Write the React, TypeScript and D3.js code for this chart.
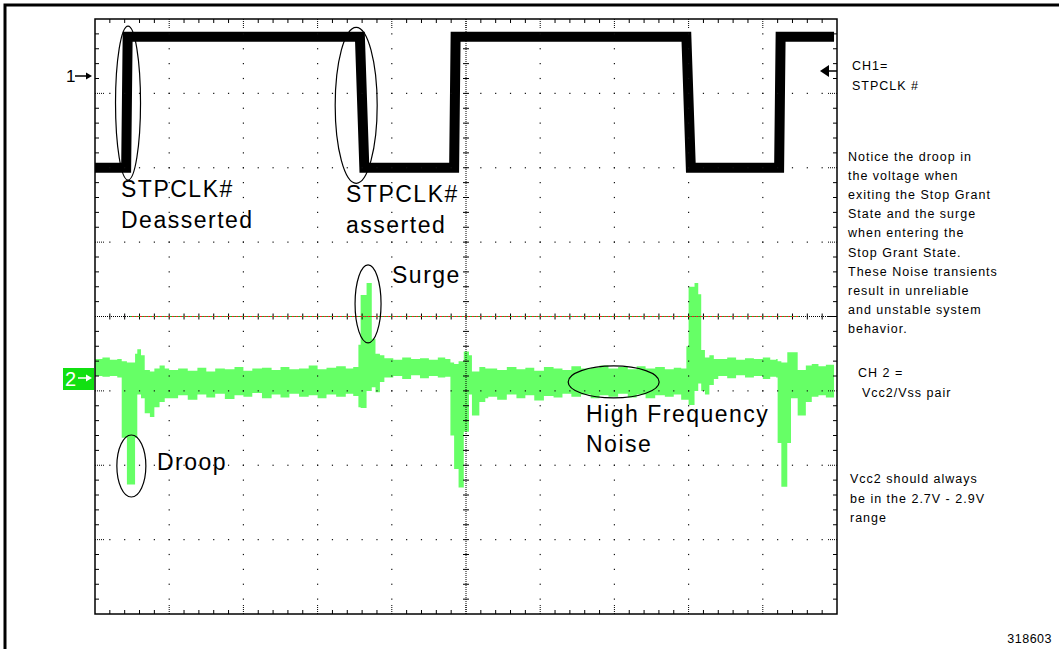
import React, { useEffect, useRef } from 'react';
import * as d3 from 'd3';

// values read off the scope capture, in screen divisions
// time: 0..10 div, amplitude: -4..4 div (0 = centre graticule line)

// CH1 = STPCLK#  [time, level]
const ch1Trace: [number, number][] = [
  [0.00, 2.00], [0.42, 2.00], [0.44, 3.76], [3.57, 3.76], [3.63, 2.00],
  [4.84, 2.00], [4.86, 3.76], [7.97, 3.76], [8.03, 2.00], [9.22, 2.00],
  [9.24, 3.76], [9.96, 3.76],
];

// CH2 = Vcc2/Vss, envelope of the noisy trace  [time, low, high]
const ch2Envelope: [number, number, number][] = [
  [0.00, -0.80, -0.57], [0.10, -0.81, -0.55], [0.20, -0.80, -0.58], [0.30, -0.82, -0.57],
  [0.36, -1.63, -0.60], [0.43, -2.26, -0.62], [0.54, -1.63, -0.50], [0.57, -1.05, -0.44],
  [0.62, -1.10, -0.52], [0.67, -1.30, -0.72], [0.74, -1.35, -0.74], [0.80, -1.22, -0.70],
  [0.87, -1.15, -0.66], [0.94, -1.10, -0.70],
  [1.00, -1.10, -0.72], [1.12, -1.06, -0.70], [1.25, -1.12, -0.73], [1.38, -1.05, -0.69],
  [1.50, -1.09, -0.74], [1.62, -1.04, -0.70], [1.75, -1.11, -0.71], [1.88, -1.06, -0.68],
  [2.00, -1.08, -0.73], [2.12, -1.03, -0.70], [2.25, -1.10, -0.69], [2.38, -1.05, -0.72],
  [2.50, -1.09, -0.68], [2.62, -1.04, -0.71], [2.75, -1.08, -0.70], [2.88, -1.06, -0.66],
  [3.00, -1.10, -0.71], [3.12, -1.05, -0.69], [3.25, -1.08, -0.67], [3.38, -1.04, -0.70],
  [3.48, -1.07, -0.68],
  [3.55, -1.22, -0.38], [3.58, -1.23, 0.29], [3.66, -1.00, 0.45], [3.73, -0.95, -0.30],
  [3.78, -1.02, -0.50], [3.84, -0.88, -0.52],
  [3.90, -0.82, -0.56], [4.02, -0.80, -0.58], [4.14, -0.84, -0.55], [4.26, -0.79, -0.57],
  [4.38, -0.83, -0.56], [4.50, -0.80, -0.58], [4.62, -0.82, -0.55], [4.72, -0.81, -0.57],
  [4.79, -1.60, -0.62], [4.84, -2.05, -0.64], [4.90, -2.30, -0.60], [4.97, -1.55, -0.47],
  [5.04, -1.05, -0.52], [5.08, -1.33, -0.74], [5.18, -1.15, -0.68], [5.26, -1.10, -0.70],
  [5.30, -1.08, -0.70], [5.42, -1.12, -0.72], [5.55, -1.05, -0.68], [5.68, -1.10, -0.71],
  [5.80, -1.06, -0.69], [5.92, -1.13, -0.73], [6.05, -1.07, -0.68], [6.18, -1.09, -0.70],
  [6.30, -1.04, -0.72], [6.42, -1.08, -0.67], [6.55, -1.05, -0.70], [6.68, -1.10, -0.69],
  [6.80, -1.06, -0.66], [6.92, -1.08, -0.70], [7.05, -1.04, -0.68], [7.18, -1.09, -0.71],
  [7.30, -1.05, -0.67], [7.42, -1.10, -0.70], [7.55, -1.06, -0.68], [7.68, -1.08, -0.71],
  [7.80, -1.05, -0.69], [7.90, -1.12, -0.70],
  [7.97, -1.12, -0.40], [8.00, -1.19, 0.40], [8.08, -1.00, 0.45], [8.13, -0.90, 0.30],
  [8.17, -1.00, -0.45], [8.22, -1.05, -0.55], [8.28, -0.92, -0.52],
  [8.34, -0.84, -0.57], [8.40, -0.80, -0.57], [8.52, -0.83, -0.55], [8.64, -0.79, -0.58],
  [8.76, -0.82, -0.56], [8.88, -0.80, -0.57], [9.00, -0.84, -0.55], [9.10, -0.81, -0.58],
  [9.18, -0.82, -0.57],
  [9.20, -1.70, -0.60], [9.25, -2.29, -0.62], [9.33, -1.70, -0.48], [9.38, -1.10, -0.48],
  [9.47, -1.33, -0.72], [9.58, -1.15, -0.66], [9.66, -1.08, -0.64], [9.75, -1.06, -0.67],
  [9.85, -1.09, -0.65], [9.96, -1.06, -0.66],
];

const timeDivisions = 10;
const ampDivisions = 8;
const minorPerDivision = 5;

const ch1Note = ['CH1=', 'STPCLK #'];
const noteLines = [
  'Notice the droop in', 'the voltage when', 'exiting the Stop Grant', 'State and the surge',
  'when entering the', 'Stop Grant State.', 'These Noise transients', 'result in unreliable',
  'and unstable system', 'behavior.',
];
const ch2Note = ['CH 2 =', 'Vcc2/Vss pair'];
const rangeNote = ['Vcc2 should always', 'be in the 2.7V - 2.9V', 'range'];
const figureNumber = '318603';

const FONT = '"Liberation Sans", Arial, sans-serif';

export default function App() {
  const ref = useRef<SVGSVGElement>(null);

  useEffect(() => {
    const svg = d3.select(ref.current);
    svg.selectAll('*').remove();

    const left = 95, top = 19, right = 837, bottom = 614;
    const x = d3.scaleLinear().domain([0, timeDivisions]).range([left, right]);
    const y = d3.scaleLinear().domain([-ampDivisions / 2, ampDivisions / 2]).range([bottom, top]);

    // outer frame (only top and left visible)
    svg.append('path')
      .attr('d', 'M5,649V5H1059')
      .attr('fill', 'none')
      .attr('stroke', '#000')
      .attr('stroke-width', 3);

    // CH2 trace
    const area = d3.area<[number, number, number]>()
      .x(d => x(d[0]))
      .y0(d => y(d[1]))
      .y1(d => y(d[2]))
      .curve(d3.curveStepAfter);
    svg.append('path')
      .datum(ch2Envelope)
      .attr('d', area)
      .attr('fill', '#66ff66');

    // CH1 trace
    const line = d3.line<[number, number]>()
      .x(d => x(d[0]))
      .y(d => y(d[1]));
    svg.append('path')
      .datum(ch1Trace)
      .attr('d', line)
      .attr('fill', 'none')
      .attr('stroke', '#000')
      .attr('stroke-width', 10)
      .attr('stroke-linejoin', 'miter');

    // graticule
    const g = svg.append('g');
    const minorT = d3.range(1, timeDivisions * minorPerDivision).map(i => i / minorPerDivision);
    const minorV = d3.range(1, ampDivisions * minorPerDivision).map(i => -ampDivisions / 2 + i / minorPerDivision);
    const majorT = d3.range(1, timeDivisions);
    const majorV = d3.range(-ampDivisions / 2 + 1, ampDivisions / 2);
    const isMajor = (v: number) => Math.abs(v - Math.round(v)) < 1e-6;

    const dots: [number, number][] = [];
    majorT.filter(t => t !== timeDivisions / 2).forEach(t => minorV.forEach(v => dots.push([x(t), y(v)])));
    majorV.filter(v => v !== 0).forEach(v => minorT.forEach(t => dots.push([x(t), y(v)])));
    g.selectAll('rect.dot')
      .data(dots)
      .join('rect')
      .attr('class', 'dot')
      .attr('x', d => d[0] - 0.6)
      .attr('y', d => d[1] - 0.6)
      .attr('width', 1.2)
      .attr('height', 1.2)
      .attr('fill', '#111');

    // centre lines
    const cx = x(timeDivisions / 2), cy = y(0);
    g.append('line')
      .attr('x1', cx).attr('x2', cx).attr('y1', top).attr('y2', bottom)
      .attr('stroke', '#000').attr('stroke-dasharray', '1,1');
    g.append('line')
      .attr('x1', left).attr('x2', right).attr('y1', cy).attr('y2', cy)
      .attr('stroke', '#000').attr('stroke-dasharray', '1,1');
    g.selectAll('line.vtick')
      .data(minorV)
      .join('line')
      .attr('class', 'vtick')
      .attr('x1', cx - 3).attr('x2', cx + 3)
      .attr('y1', d => y(d)).attr('y2', d => y(d))
      .attr('stroke', '#000');
    g.selectAll('line.htick')
      .data(minorT)
      .join('line')
      .attr('class', 'htick')
      .attr('x1', d => x(d)).attr('x2', d => x(d))
      .attr('y1', cy - 3).attr('y2', cy + 3)
      .attr('stroke', '#000');

    // trigger level line (red / green)
    g.append('line')
      .attr('x1', x(0.47)).attr('x2', x(9.49)).attr('y1', cy).attr('y2', cy)
      .attr('stroke', '#22bb22').attr('stroke-dasharray', '2,2');
    g.append('line')
      .attr('x1', x(0.47)).attr('x2', x(9.49)).attr('y1', cy).attr('y2', cy)
      .attr('stroke', '#ff2222').attr('stroke-dasharray', '2,2').attr('stroke-dashoffset', 2);

    // border ticks
    const tickLen = (v: number) => (isMajor(v) ? 9 : 4);
    const tickDash = (v: number) => (isMajor(v) ? '1,1' : null);
    [top, bottom].forEach((edge, i) => {
      const dir = i === 0 ? 1 : -1;
      g.selectAll(`line.bt${i}`)
        .data(minorT)
        .join('line')
        .attr('class', `bt${i}`)
        .attr('x1', d => x(d)).attr('x2', d => x(d))
        .attr('y1', edge).attr('y2', d => edge + dir * tickLen(d))
        .attr('stroke', '#000')
        .attr('stroke-dasharray', d => tickDash(d));
    });
    [left, right].forEach((edge, i) => {
      const dir = i === 0 ? 1 : -1;
      g.selectAll(`line.bl${i}`)
        .data(minorV)
        .join('line')
        .attr('class', `bl${i}`)
        .attr('y1', d => y(d)).attr('y2', d => y(d))
        .attr('x1', edge).attr('x2', d => edge + dir * tickLen(d))
        .attr('stroke', '#000')
        .attr('stroke-dasharray', d => tickDash(d));
    });

    g.append('rect')
      .attr('x', left).attr('y', top)
      .attr('width', right - left).attr('height', bottom - top)
      .attr('fill', 'none').attr('stroke', '#000').attr('stroke-width', 1.5);

    // annotation ellipses
    const ellipses = [
      { t: 0.445, v: 2.87, rx: 12.5, ry: 77 },
      { t: 3.52, v: 2.84, rx: 21, ry: 78 },
      { t: 3.68, v: 0.17, rx: 13, ry: 39 },
      { t: 0.49, v: -2.01, rx: 14.5, ry: 31 },
      { t: 6.99, v: -0.88, rx: 45.5, ry: 16 },
    ];
    svg.selectAll('ellipse')
      .data(ellipses)
      .join('ellipse')
      .attr('cx', d => x(d.t)).attr('cy', d => y(d.v))
      .attr('rx', d => d.rx).attr('ry', d => d.ry)
      .attr('fill', 'none').attr('stroke', '#000').attr('stroke-width', 1.2);

    // annotation labels
    const labels = [
      { text: 'STPCLK#', x: 121, y: 197 },
      { text: 'Deasserted', x: 121, y: 228 },
      { text: 'STPCLK#', x: 346, y: 202 },
      { text: 'asserted', x: 346, y: 233 },
      { text: 'Surge', x: 392, y: 283 },
      { text: 'Droop', x: 157, y: 470 },
      { text: 'High Frequency', x: 586, y: 422 },
      { text: 'Noise', x: 586, y: 452 },
    ];
    svg.selectAll('text.label')
      .data(labels)
      .join('text')
      .attr('class', 'label')
      .attr('x', d => d.x).attr('y', d => d.y)
      .attr('font-family', FONT).attr('font-size', 23)
      .attr('letter-spacing', 1.5)
      .attr('fill', '#000')
      .text(d => d.text);

    // side notes
    const small = (lines: string[], x0: number, y0: number, dy: number) => {
      lines.forEach((s, i) => {
        svg.append('text')
          .attr('x', x0).attr('y', y0 + i * dy)
          .attr('font-family', FONT).attr('font-size', 12.5)
          .attr('letter-spacing', 1)
          .attr('fill', '#000')
          .text(s);
      });
    };
    small(ch1Note, 852, 70, 20);
    small(noteLines, 848, 161, 19.1);
    small(ch2Note.slice(0, 1), 858, 377, 20);
    small(ch2Note.slice(1), 862, 397, 20);
    small(rangeNote, 850, 483, 19.5);
    svg.append('text')
      .attr('x', 1052).attr('y', 643)
      .attr('text-anchor', 'end')
      .attr('font-family', FONT).attr('font-size', 12.5)
      .attr('letter-spacing', 0.5)
      .text(figureNumber);

    // channel markers
    svg.append('text')
      .attr('x', 66).attr('y', 82)
      .attr('font-family', FONT).attr('font-size', 17)
      .text('1');
    svg.append('path')
      .attr('d', 'M75,76H88')
      .attr('stroke', '#000').attr('stroke-width', 1.5);
    svg.append('path')
      .attr('d', 'M92,76L86,72.5L86,79.5Z')
      .attr('fill', '#000');

    svg.append('rect')
      .attr('x', 63).attr('y', 368).attr('width', 31).attr('height', 22)
      .attr('fill', '#11e011');
    svg.append('text')
      .attr('x', 65).attr('y', 386)
      .attr('font-family', FONT).attr('font-size', 20)
      .attr('fill', '#fff')
      .text('2');
    svg.append('path')
      .attr('d', 'M78,378H88')
      .attr('stroke', '#fff').attr('stroke-width', 1.5);
    svg.append('path')
      .attr('d', 'M92,378L86,374.5L86,381.5Z')
      .attr('fill', '#fff');

    // CH1 reference arrow on the right edge
    svg.append('path')
      .attr('d', 'M820,71L829,65L829,77Z')
      .attr('fill', '#000');
    svg.append('path')
      .attr('d', 'M829,71H837')
      .attr('stroke', '#000').attr('stroke-width', 1.5);
  }, []);

  return (
    <svg
      ref={ref}
      width={1059}
      height={649}
      style={{ position: 'absolute', left: 0, top: 0, background: '#fff' }}
    />
  );
}
